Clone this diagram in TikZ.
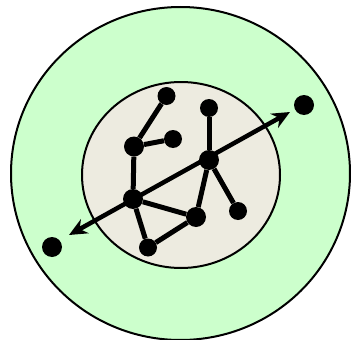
\documentclass[tikz,border=0pt]{standalone}
\usetikzlibrary{arrows.meta,shapes.geometric}
\definecolor{outerfill}{RGB}{204,255,204}
\definecolor{innerfill}{RGB}{237,235,224}
\begin{document}
\begin{tikzpicture}[x=1pt,y=-1pt,
  dot/.style={circle,fill=black,inner sep=0pt,minimum size=18pt},
  bigdot/.style={circle,fill=black,inner sep=0pt,minimum size=20pt},
  edge/.style={line width=5pt},
  ring/.style={line width=2pt,draw=black}]
\useasboundingbox (0,0) rectangle (351,340);
\node[ring,ellipse,fill=outerfill,minimum width=339pt,minimum height=333pt,inner sep=0pt] (outer) at (180.5,173.5) {};
\node[ring,ellipse,fill=innerfill,minimum width=198pt,minimum height=186pt,inner sep=0pt] (inner) at (181,175) {};
\node[dot] (a) at (166.5,96) {};
\node[bigdot] (b) at (134,146.5) {};
\node[dot] (c) at (173,139) {};
\node[dot] (d) at (209,108) {};
\node[bigdot] (e) at (209,160) {};
\node[bigdot] (f) at (133,199) {};
\node[bigdot] (g) at (196,217) {};
\node[dot] (h) at (238,211) {};
\node[dot] (i) at (148,247.5) {};
\node[bigdot] (j) at (304,105) {};
\node[bigdot] (k) at (52,247) {};
\coordinate (la) at (69,235);
\coordinate (ra) at (290,112);
\draw[edge] (a) -- (b);
\draw[edge] (b) -- (c);
\draw[edge] (b) -- (f);
\draw[edge] (d) -- (e);
\draw[edge] (e) -- (g);
\draw[edge] (e) -- (h);
\draw[edge] (f) -- (g);
\draw[edge] (f) -- (i);
\draw[edge] (i) -- (g);
\draw[line width=4.5pt,{Stealth[length=18pt,width=16pt]}-{Stealth[length=18pt,width=16pt]}] (la) -- (ra);
\end{tikzpicture}
\end{document}
